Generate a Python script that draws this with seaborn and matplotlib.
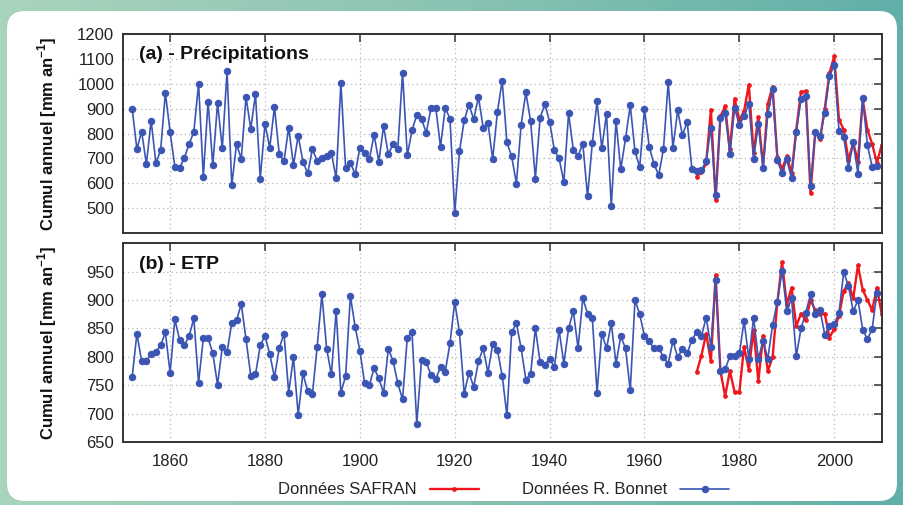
import numpy as np
import pandas as pd
import matplotlib
matplotlib.use("Agg")
import matplotlib.pyplot as plt
import seaborn as sns
from matplotlib.patches import FancyBboxPatch
from matplotlib.colors import LinearSegmentedColormap

# ---------------- data ----------------
bonnet_start = 1852
safran_start = 1971

precip_bonnet = [
    900, 737, 808, 677, 852, 682, 732, 963,                      # 1852-1859
    806, 667, 662, 702, 758, 806, 1001, 627, 928, 672,           # 1860s
    923, 740, 1051, 592, 758, 698, 947, 819, 958, 619,           # 1870s
    839, 743, 907, 718, 689, 824, 673, 791, 687, 640,            # 1880s
    737, 689, 703, 709, 721, 620, 1003, 660, 683, 636,           # 1890s
    743, 723, 697, 795, 687, 829, 717, 757, 736, 1044,           # 1900s
    712, 813, 875, 857, 804, 903, 904, 747, 903, 860,            # 1910s
    480, 729, 853, 916, 857, 947, 824, 844, 697, 887,            # 1920s
    1013, 764, 708, 599, 836, 965, 849, 619, 864, 917,           # 1930s
    848, 733, 700, 605, 881, 735, 711, 759, 547, 761,            # 1940s
    929, 740, 879, 507, 849, 656, 780, 913, 728, 665,            # 1950s
    897, 747, 677, 633, 737, 1007, 743, 893, 793, 848,           # 1960s
    656, 651, 652, 691, 823, 551, 864, 884, 716, 903,            # 1970s
    833, 872, 919, 697, 837, 663, 879, 977, 692, 640,            # 1980s
    696, 620, 807, 937, 951, 588, 805, 789, 884, 1031,           # 1990s
    1075, 812, 785, 661, 764, 639, 941, 753, 665, 671,           # 2000s
]
precip_safran = [
    627, 644, 680, 896, 533, 869, 909, 736, 940,                 # 1971-1979
    853, 891, 997, 720, 867, 667, 920, 989, 707, 656,            # 1980s
    709, 640, 816, 967, 971, 560, 807, 776, 900, 1043,           # 1990s
    1111, 856, 816, 693, 763, 687, 936, 816, 757, 683, 753,      # 2000-2010
]
etp_bonnet = [
    764, 841, 792, 793, 805, 809, 820, 843,                      # 1852-1859
    772, 866, 830, 821, 836, 868, 754, 833, 833, 806,
    751, 817, 808, 860, 864, 893, 831, 767, 769, 820,
    837, 805, 764, 815, 841, 737, 799, 698, 771, 739,
    734, 818, 910, 814, 769, 881, 737, 766, 907, 853,
    811, 754, 750, 780, 762, 736, 814, 793, 753, 725,
    834, 843, 682, 794, 790, 768, 761, 782, 774, 824,
    897, 843, 735, 772, 747, 792, 815, 772, 822, 812,
    767, 697, 843, 859, 815, 760, 770, 850, 790, 786,
    797, 782, 847, 788, 850, 881, 815, 903, 876, 869,
    737, 841, 815, 859, 788, 836, 815, 741, 900, 875,
    836, 827, 815, 816, 799, 788, 828, 799, 814, 806,
    830, 843, 836, 869, 818, 936, 775, 778, 801, 802,
    806, 863, 797, 869, 797, 827, 797, 856, 897, 952,
    881, 903, 801, 850, 878, 910, 876, 883, 839, 854,
    857, 878, 949, 925, 880, 900, 848, 831, 849, 913,
]
etp_safran = [
    773, 802, 841, 792, 944, 775, 731, 775, 738,                 # 1971-1979
    738, 818, 777, 848, 757, 837, 775, 799, 895, 967,
    892, 922, 854, 876, 864, 900, 882, 876, 876, 834,
    849, 872, 916, 930, 903, 961, 918, 900, 882, 922, 876,
]

panel_titles = ["(a) - Précipitations", "(b) - ETP"]
ylabel = r"Cumul annuel [mm an$^{\mathbf{-1}}$]"
legend_labels = ["Données SAFRAN", "Données R. Bonnet"]
xticks = [1860, 1880, 1900, 1920, 1940, 1960, 1980, 2000]
yticks_a = [500, 600, 700, 800, 900, 1000, 1100, 1200]
yticks_b = [650, 700, 750, 800, 850, 900, 950]

years_b = np.arange(bonnet_start, bonnet_start + len(precip_bonnet))
years_s = np.arange(safran_start, safran_start + len(precip_safran))

df_a_b = pd.DataFrame({"year": years_b, "val": precip_bonnet})
df_a_s = pd.DataFrame({"year": years_s, "val": precip_safran})
df_b_b = pd.DataFrame({"year": years_b, "val": etp_bonnet})
df_b_s = pd.DataFrame({"year": years_s, "val": etp_safran})

# ---------------- style ----------------
sns.set_theme(style="white")
plt.rcParams["font.family"] = ["Liberation Sans", "DejaVu Sans"]
plt.rcParams["mathtext.fontset"] = "custom"
plt.rcParams["mathtext.rm"] = "Liberation Sans"
plt.rcParams["mathtext.bf"] = "Liberation Sans:bold"

BLUE = "#3a55b4"
RED = "#f0161c"

fig = plt.figure(figsize=(9.04, 5.05), dpi=100)

# background frame
bg = fig.add_axes([0, 0, 1, 1], zorder=-10)
cmap = LinearSegmentedColormap.from_list("bgc", ["#a9d4bc", "#8ac3b3", "#60afa8"])
bg.imshow(np.linspace(0, 1, 256)[None, :], aspect="auto", cmap=cmap,
          extent=[0, 904, 0, 505])
bg.add_patch(FancyBboxPatch((7, 4), 890, 490,
                            boxstyle="round,pad=0,rounding_size=18",
                            fc="white", ec="none"))
bg.set_xlim(0, 904)
bg.set_ylim(0, 505)
bg.axis("off")

ax1 = fig.add_axes([0.1357, 0.5386, 0.8396, 0.394])
ax2 = fig.add_axes([0.1357, 0.1248, 0.8396, 0.3935])

for ax, df_s, df_bn, yt, ylim, title in [
    (ax1, df_a_s, df_a_b, yticks_a, (400, 1200), panel_titles[0]),
    (ax2, df_b_s, df_b_b, yticks_b, (650, 1000), panel_titles[1]),
]:
    sns.lineplot(data=df_s, x="year", y="val", ax=ax, color=RED, linewidth=1.7,
                 marker="o", markersize=2.6, markeredgecolor=RED,
                 label=legend_labels[0], legend=False)
    sns.lineplot(data=df_bn, x="year", y="val", ax=ax, color=BLUE, linewidth=1.2,
                 marker="o", markersize=4.6, markeredgecolor=BLUE,
                 label=legend_labels[1], legend=False)
    ax.set_xlim(1850, 2010)
    ax.set_ylim(*ylim)
    ax.set_xticks(xticks)
    ax.set_yticks(yt)
    ax.grid(True, linestyle=(0, (1, 2.5)), color="#b5b5b5", linewidth=0.9)
    ax.tick_params(direction="in", top=True, right=True, length=6, width=1.1,
                   color="#333333", labelsize=12, pad=6, labelcolor="#222222")
    for sp in ax.spines.values():
        sp.set_color("#333333")
        sp.set_linewidth(1.4)
    ax.set_xlabel("")
    ax.set_ylabel(ylabel, fontsize=12, fontweight="bold", color="#111111")
    ax.yaxis.set_label_coords(-0.084, 0.5)
    ax.text(0.022, 0.895, title, transform=ax.transAxes, fontsize=14,
            fontweight="bold", color="#111111", va="center", ha="left")
    ax.set_facecolor("white")

ax1.tick_params(labelbottom=False)
ax2.tick_params(axis="x", pad=9)

handles, labels = ax2.get_legend_handles_labels()
fig.legend(handles, labels, loc="center", bbox_to_anchor=(0.557, 0.03),
           ncol=2, frameon=False, markerfirst=False, fontsize=12,
           handlelength=2.9, handletextpad=0.8, columnspacing=2.6)

fig.savefig("out.png", dpi=100)
